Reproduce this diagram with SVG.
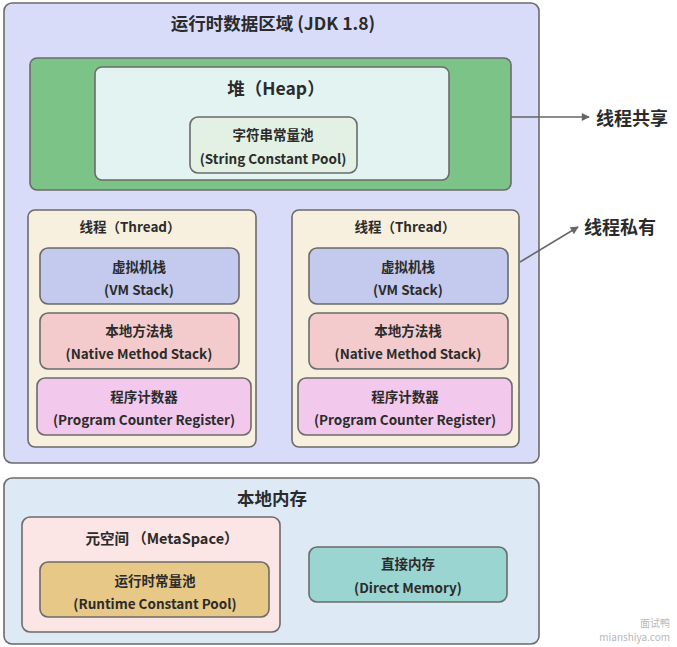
<svg xmlns="http://www.w3.org/2000/svg" width="677" height="647" viewBox="0 0 677 647">
  <style>
    text { font-family: "Noto Sans CJK SC", "Noto Sans", sans-serif; font-weight: 700; fill: #2b2b2b; text-anchor: middle; dominant-baseline: central; }
    .box { stroke: #6b6b6b; stroke-width: 1.6; }
    .title { font-size: 17.5px; }
    .lbl { font-size: 13.5px; }
    .side { font-size: 18px; text-anchor: start; }
    .conn { stroke: #666; stroke-width: 1.6; fill: none; }
    .wm { font-size: 10px; font-weight: 400; fill: #b8b8b8; text-anchor: end; }
  </style>
  <defs>
    <marker id="arrow" viewBox="0 0 10 10" refX="9" refY="5" markerWidth="9" markerHeight="8" markerUnits="userSpaceOnUse" orient="auto">
      <path d="M0,0 L10,5 L0,10 Z" fill="#666"/>
    </marker>
  </defs>

  <!-- runtime data area -->
  <g id="runtime-area">
    <rect class="box" x="4" y="3" width="535" height="460" rx="8" fill="#d9dcf8"/>
    <text class="title" x="273" y="22">运行时数据区域 (JDK 1.8)</text>
  </g>

  <g id="shared-area">
    <rect class="box" x="30" y="58" width="481" height="132" rx="7" fill="#7cc387"/>
  </g>

  <g id="heap">
    <rect class="box" x="95" y="67" width="354" height="113" rx="7" fill="#e3f3f2"/>
    <text class="title" x="276" y="87">堆（Heap）</text>
  </g>

  <g id="string-pool">
    <rect class="box" x="190" y="117" width="167" height="56" rx="8" fill="#e2f1e3"/>
    <text class="lbl" x="273" y="134">字符串常量池</text>
    <text class="lbl" x="273" y="158">(String Constant Pool)</text>
  </g>

  <!-- thread 1 -->
  <g id="thread-1">
    <rect class="box" x="28" y="210" width="228" height="237" rx="7" fill="#f7f0de"/>
    <text class="lbl" x="130" y="226">线程（Thread）</text>
  </g>
  <g id="vm-stack-1">
    <rect class="box" x="40" y="248" width="199" height="56" rx="8" fill="#c3caee"/>
    <text class="lbl" x="139" y="266">虚拟机栈</text>
    <text class="lbl" x="139" y="289">(VM Stack)</text>
  </g>
  <g id="native-stack-1">
    <rect class="box" x="40" y="313" width="199" height="56" rx="8" fill="#f3cbcc"/>
    <text class="lbl" x="139" y="330">本地方法栈</text>
    <text class="lbl" x="139" y="353">(Native Method Stack)</text>
  </g>
  <g id="pc-register-1">
    <rect class="box" x="37" y="378" width="214" height="57" rx="8" fill="#f2c9ec"/>
    <text class="lbl" x="144" y="396">程序计数器</text>
    <text class="lbl" x="144" y="419">(Program Counter Register)</text>
  </g>

  <!-- thread 2 -->
  <g id="thread-2">
    <rect class="box" x="292" y="210" width="227" height="237" rx="7" fill="#f7f0de"/>
    <text class="lbl" x="405" y="226">线程（Thread）</text>
  </g>
  <g id="vm-stack-2">
    <rect class="box" x="309" y="248" width="199" height="56" rx="8" fill="#c3caee"/>
    <text class="lbl" x="408" y="266">虚拟机栈</text>
    <text class="lbl" x="408" y="289">(VM Stack)</text>
  </g>
  <g id="native-stack-2">
    <rect class="box" x="309" y="313" width="199" height="56" rx="8" fill="#f3cbcc"/>
    <text class="lbl" x="408" y="330">本地方法栈</text>
    <text class="lbl" x="408" y="353">(Native Method Stack)</text>
  </g>
  <g id="pc-register-2">
    <rect class="box" x="298" y="378" width="214" height="57" rx="8" fill="#f2c9ec"/>
    <text class="lbl" x="405" y="396">程序计数器</text>
    <text class="lbl" x="405" y="419">(Program Counter Register)</text>
  </g>

  <!-- side labels -->
  <g id="label-shared">
    <text class="side" x="596" y="117">线程共享</text>
  </g>
  <g id="label-private">
    <text class="side" x="584" y="226">线程私有</text>
  </g>

  <!-- native memory -->
  <g id="native-memory">
    <rect class="box" x="4" y="478" width="535" height="166" rx="8" fill="#ddeaf6"/>
    <text class="title" x="272" y="497">本地内存</text>
  </g>
  <g id="metaspace">
    <rect class="box" x="22" y="517" width="258" height="115" rx="8" fill="#fbe5e5"/>
    <text class="lbl" x="162" y="537" style="font-size:14.5px">元空间 （MetaSpace）</text>
  </g>
  <g id="runtime-pool">
    <rect class="box" x="40" y="562" width="229" height="55" rx="8" fill="#e8c887"/>
    <text class="lbl" x="155" y="580">运行时常量池</text>
    <text class="lbl" x="155" y="603">(Runtime Constant Pool)</text>
  </g>
  <g id="direct-memory">
    <rect class="box" x="309" y="547" width="198" height="55" rx="8" fill="#9ad5d1"/>
    <text class="lbl" x="408" y="563">直接内存</text>
    <text class="lbl" x="408" y="587">(Direct Memory)</text>
  </g>

  <!-- connectors -->
  <g id="connectors">
    <line class="conn" x1="511" y1="117" x2="589" y2="117" marker-end="url(#arrow)"/>
    <line class="conn" x1="520" y1="262" x2="578" y2="227" marker-end="url(#arrow)"/>
  </g>

  <!-- watermark -->
  <g id="watermark">
    <text class="wm" x="670" y="622">面试鸭</text>
    <text class="wm" x="670" y="636">mianshiya.com</text>
  </g>
</svg>
